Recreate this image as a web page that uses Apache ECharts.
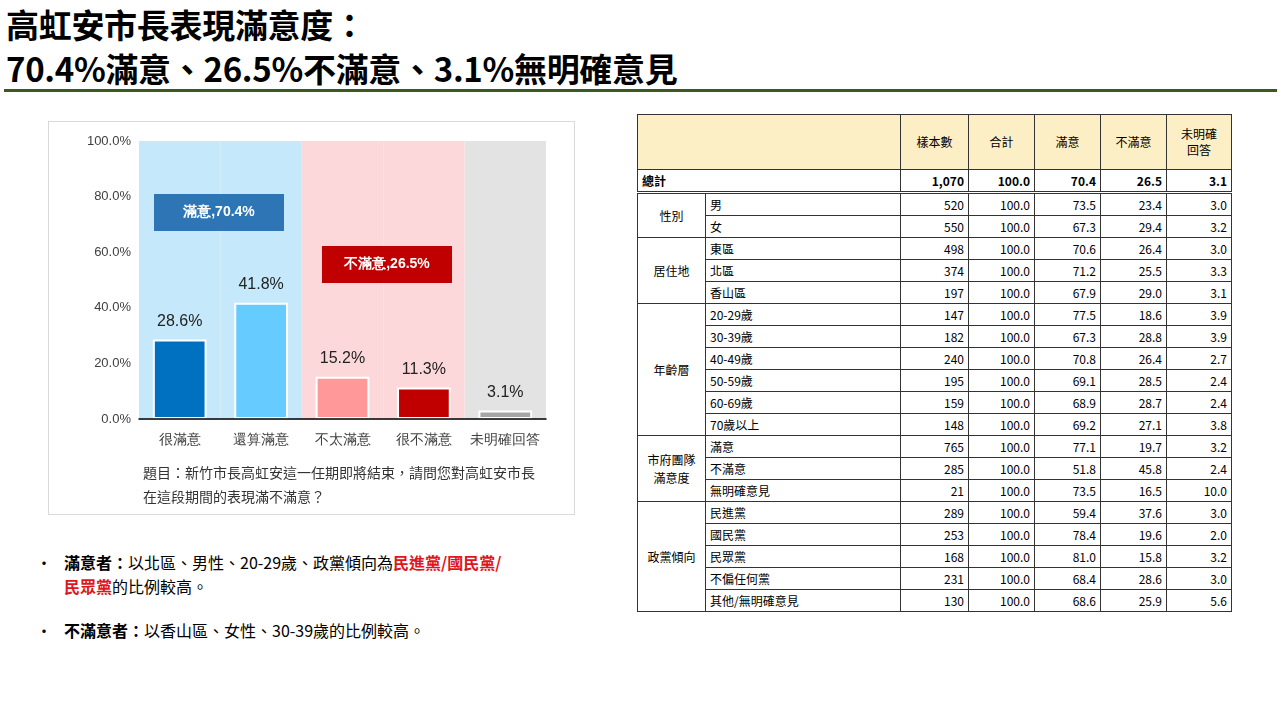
<!DOCTYPE html>
<html><head><meta charset="utf-8">
<script src="https://cdn.jsdelivr.net/npm/echarts@6/dist/echarts.min.js"></script>
<style>
body{margin:0;width:1280px;height:720px;background:#fff;font-family:"Noto Sans CJK TC","Noto Sans",sans-serif;position:relative;overflow:hidden}
#title{position:absolute;left:6px;top:2px;font-size:33px;font-weight:bold;line-height:44px;color:#000;letter-spacing:-0.3px}
#rule{position:absolute;left:4px;top:89px;width:1273px;height:3px;background:#3a5a1f}
#box{position:absolute;left:48px;top:121px;width:525px;height:392px;border:1px solid #d9d9d9}
#chart{position:absolute;left:0;top:0;width:525px;height:345px}
#q{position:absolute;left:94px;top:338px;font-size:14px;line-height:24px;color:#333}
#notes{position:absolute;left:36px;top:550px;font-size:16px;line-height:24px;color:#000}
#notes .b{position:relative;padding-left:28px;width:445px;margin-bottom:20px}
#notes .b:before{content:"•";position:absolute;left:0;top:0}
.red{color:#e0161e;font-weight:bold}
table{position:absolute;left:637px;top:114px;border-collapse:collapse;font-size:12px;font-family:"Noto Sans CJK TC","Open Sans",sans-serif}
td{border:1px solid #333;height:21px;padding:0 4px;line-height:14px}
td.n{text-align:right}
tr.h td{background:#fdefc5;height:54px;text-align:center;line-height:16px}
tr.tot td{font-weight:bold;border-bottom:3px double #333}
td.g{text-align:center}
</style></head><body>
<div id="title">高虹安市長表現滿意度：<br>70.4%滿意、26.5%不滿意、3.1%無明確意見</div>
<div id="rule"></div>
<div id="box"><div id="chart"></div>
<div id="q">題目：新竹市長高虹安這一任期即將結束，請問您對高虹安市長<br>在這段期間的表現滿不滿意？</div></div>
<div id="notes">
<div class="b"><b>滿意者：</b>以北區、男性、20-29歲、政黨傾向為<span class="red">民進黨/國民黨/民眾黨</span>的比例較高。</div>
<div class="b"><b>不滿意者：</b>以香山區、女性、30-39歲的比例較高。</div>
</div>
<table id="tb"></table>
<script>
const categories=['很滿意','還算滿意','不太滿意','很不滿意','未明確回答'];
const values=[28.6,41.8,15.2,11.3,3.1];
const barColors=['#0070c0','#66ccff','#ff9999','#c00000','#a6a6a6'];
const bandColors=['#c5e9fb','#c5e9fb','#fdd8da','#fdd8da','#e3e3e3'];
const groupLabels=[['滿意,70.4%','#2e75b6'],['不滿意,26.5%','#c00000']];

const c=echarts.init(document.getElementById('chart'));
function tag(x,y,t,col){return [
 {type:'rect',shape:{x:x,y:y,width:130,height:37},style:{fill:col},z:100},
 {type:'text',z:101,style:{x:x+65,y:y+18.5,text:t,align:'center',verticalAlign:'middle',fill:'#fff',fontSize:14,fontWeight:'bold'}}];}
c.setOption({
 animation:false,
 grid:{left:90,right:28,top:19,bottom:48},
 xAxis:[{type:'category',data:categories,axisTick:{show:false},
  axisLine:{lineStyle:{color:'#000',width:1.5}},
  axisLabel:{fontSize:14,color:'#404040',margin:14,interval:0},z:5},
  {type:'category',data:categories,show:true,position:'bottom',axisLine:{show:false},axisTick:{show:false},axisLabel:{show:false},
   splitLine:{show:true,lineStyle:{color:'#fff',width:2}}}],
 yAxis:{type:'value',min:0,max:100,interval:20,
  axisLabel:{formatter:v=>v.toFixed(1)+'%',fontSize:13,color:'#404040'},
  splitLine:{lineStyle:{color:'#e6e6e6'}}},
 series:[
  {type:'bar',xAxisIndex:1,data:categories.map((k,i)=>({value:100,itemStyle:{color:bandColors[i]}})),barWidth:'100%',silent:true,z:1},
  {type:'bar',xAxisIndex:0,data:values.map((v,i)=>({value:v,itemStyle:{color:barColors[i]}})),barWidth:'66%',z:3,
   itemStyle:{borderColor:'#fff',borderWidth:2},
   label:{show:true,position:'top',distance:10,formatter:p=>p.value.toFixed(1)+'%',fontSize:16,color:'#222'}}
 ],
 graphic:[...tag(105,72,groupLabels[0][0],groupLabels[0][1]),...tag(273,124,groupLabels[1][0],groupLabels[1][1])]
});

const header=['樣本數','合計','滿意','不滿意','未明確<br>回答'];
const totalRow=['總計','1,070','100.0','70.4','26.5','3.1'];
const groups=[
 ['性別',[['男','520','100.0','73.5','23.4','3.0'],['女','550','100.0','67.3','29.4','3.2']]],
 ['居住地',[['東區','498','100.0','70.6','26.4','3.0'],['北區','374','100.0','71.2','25.5','3.3'],['香山區','197','100.0','67.9','29.0','3.1']]],
 ['年齡層',[['20-29歲','147','100.0','77.5','18.6','3.9'],['30-39歲','182','100.0','67.3','28.8','3.9'],['40-49歲','240','100.0','70.8','26.4','2.7'],['50-59歲','195','100.0','69.1','28.5','2.4'],['60-69歲','159','100.0','68.9','28.7','2.4'],['70歲以上','148','100.0','69.2','27.1','3.8']]],
 ['市府團隊<br>滿意度',[['滿意','765','100.0','77.1','19.7','3.2'],['不滿意','285','100.0','51.8','45.8','2.4'],['無明確意見','21','100.0','73.5','16.5','10.0']]],
 ['政黨傾向',[['民進黨','289','100.0','59.4','37.6','3.0'],['國民黨','253','100.0','78.4','19.6','2.0'],['民眾黨','168','100.0','81.0','15.8','3.2'],['不偏任何黨','231','100.0','68.4','28.6','3.0'],['其他/無明確意見','130','100.0','68.6','25.9','5.6']]]
];
const w=[59,186,59,57,57,57,56];
let h='<tr class="h"><td colspan="2" style="width:'+(w[0]+w[1])+'px"></td>'+header.map((x,i)=>'<td style="width:'+w[i+2]+'px">'+x+'</td>').join('')+'</tr>';
h+='<tr class="tot"><td colspan="2">'+totalRow[0]+'</td>'+totalRow.slice(1).map(x=>'<td class="n">'+x+'</td>').join('')+'</tr>';
groups.forEach(g=>{g[1].forEach((r,i)=>{h+='<tr>'+(i==0?'<td class="g" rowspan="'+g[1].length+'" style="width:'+w[0]+'px;line-height:18px">'+g[0]+'</td>':'')+'<td style="width:'+w[1]+'px">'+r[0]+'</td>'+r.slice(1).map(x=>'<td class="n">'+x+'</td>').join('')+'</tr>';});});
document.getElementById('tb').innerHTML=h;
</script></body></html>
